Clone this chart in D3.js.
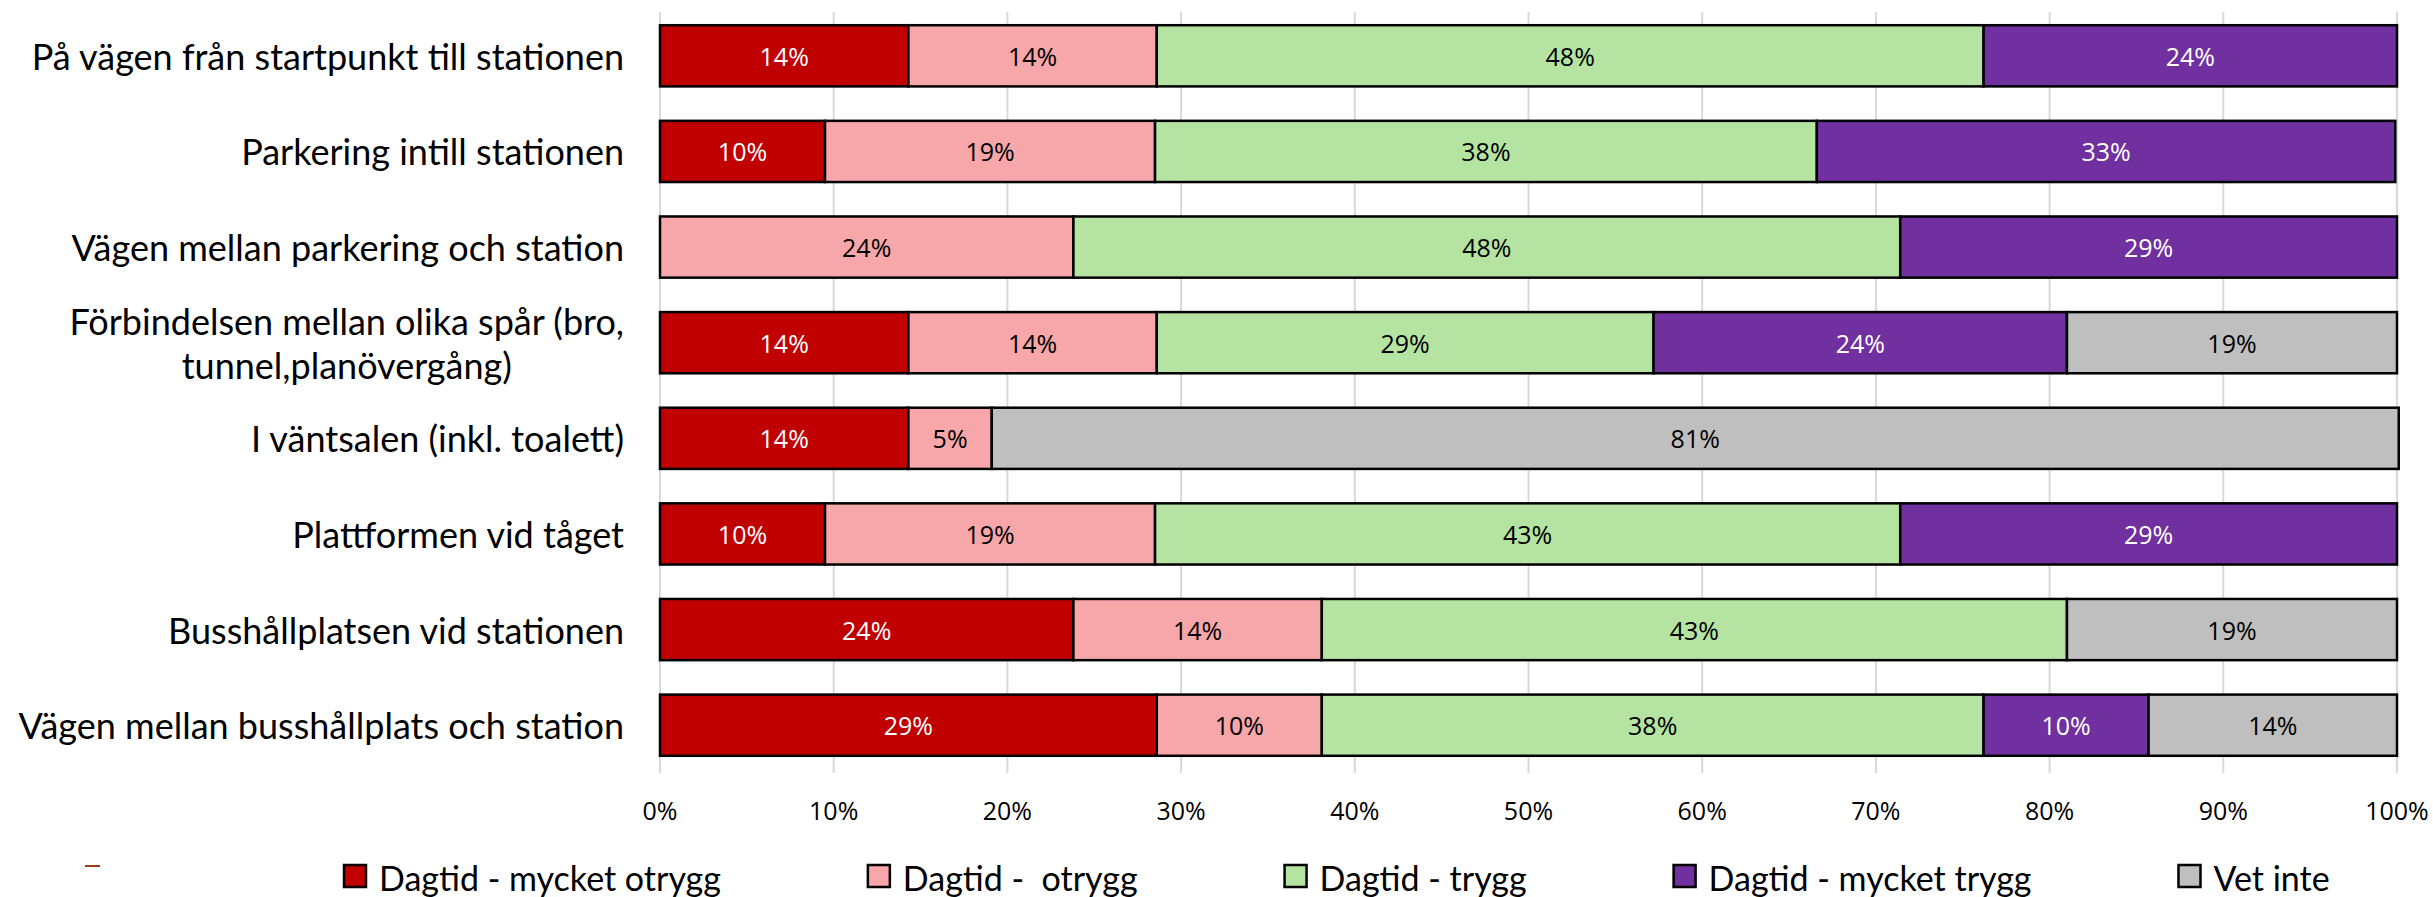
<!DOCTYPE html>
<html>
<head>
<meta charset="utf-8">
<script src="https://cdn.jsdelivr.net/npm/d3@7"></script>
<style>
    body { margin: 0; background: #fff; }
    #chart { width: 2433px; height: 897px; }
    text { white-space: pre; }
</style>
</head>
<body>
<div id="chart"></div>
<script>
var categories = [
    ["På vägen från startpunkt till stationen"],
    ["Parkering intill stationen"],
    ["Vägen mellan parkering och station"],
    ["Förbindelsen mellan olika spår (bro,", "tunnel,planövergång)"],
    ["I väntsalen (inkl. toalett)"],
    ["Plattformen vid tåget"],
    ["Busshållplatsen vid stationen"],
    ["Vägen mellan busshållplats och station"]
];
var seriesNames = ["Dagtid - mycket otrygg", "Dagtid -  otrygg", "Dagtid - trygg", "Dagtid - mycket trygg", "Vet inte"];
var seriesColors = ["#C00000", "#F7A6AA", "#B5E4A2", "#7030A0", "#BFBFBF"];
var labelColors = ["#ffffff", "#000000", "#000000", "#ffffff", "#000000"];

var mycketOtrygg = [14.3, 9.5, 0, 14.3, 14.3, 9.5, 23.8, 28.6];
var otrygg       = [14.3, 19.0, 23.8, 14.3, 4.8, 19.0, 14.3, 9.5];
var trygg        = [47.6, 38.1, 47.6, 28.6, 0, 42.9, 42.9, 38.1];
var mycketTrygg  = [23.8, 33.3, 28.6, 23.8, 0, 28.6, 0, 9.5];
var vetInte      = [0, 0, 0, 19.0, 81.0, 0, 19.0, 14.3];

var xTicks = [0, 10, 20, 30, 40, 50, 60, 70, 80, 90, 100];

var W = 2433, H = 897;
var catFont = "Lato, 'Liberation Sans', sans-serif";
var numFont = "'Open Sans', 'DejaVu Sans', sans-serif";

var svg = d3.select("#chart").append("svg").attr("width", W).attr("height", H);

var rows = categories.map(function(c, i) {
    return { key: i, label: c, values: [mycketOtrygg[i], otrygg[i], trygg[i], mycketTrygg[i], vetInte[i]] };
});

var x = d3.scaleLinear().domain([0, 100]).range([660, 2397]);
var y = d3.scaleBand().domain(rows.map(function(d) { return d.key; }))
    .range([8, 773]).paddingInner(0.36).paddingOuter(0.18);

// gridlines
svg.append("g").selectAll("line").data(xTicks).enter().append("line")
    .attr("x1", function(d) { return x(d); }).attr("x2", function(d) { return x(d); })
    .attr("y1", 12).attr("y2", 773)
    .attr("stroke", "#D9D9D9").attr("stroke-width", 2);

// tick labels
svg.append("g").selectAll("text").data(xTicks).enter().append("text")
    .attr("x", function(d) { return x(d); }).attr("y", 810)
    .attr("text-anchor", "middle").attr("dominant-baseline", "central")
    .style("font-family", numFont).style("font-size", "25px").attr("fill", "#000")
    .text(function(d) { return d + "%"; });

// stacked segments
var stack = d3.stack().keys([0, 1, 2, 3, 4]).value(function(d, k) { return d.values[k]; });
var layers = stack(rows);

var gBars = svg.append("g");
layers.forEach(function(layer, k) {
    var segs = layer.filter(function(s) { return s[1] - s[0] > 0; });
    gBars.selectAll(".seg" + k).data(segs).enter().append("rect")
        .attr("x", function(s) { return x(s[0]); })
        .attr("y", function(s) { return y(s.data.key); })
        .attr("width", function(s) { return x(s[1]) - x(s[0]); })
        .attr("height", y.bandwidth())
        .attr("fill", seriesColors[k])
        .attr("stroke", "#000").attr("stroke-width", 2.5);
    gBars.selectAll(".lab" + k).data(segs).enter().append("text")
        .attr("x", function(s) { return (x(s[0]) + x(s[1])) / 2; })
        .attr("y", function(s) { return y(s.data.key) + y.bandwidth() / 2; })
        .attr("text-anchor", "middle").attr("dominant-baseline", "central")
        .style("font-family", numFont).style("font-size", "25px")
        .attr("fill", labelColors[k])
        .text(function(s) { return Math.round(s[1] - s[0]) + "%"; });
});

// category labels
var labelRight = 624;
var gCat = svg.append("g");
rows.forEach(function(r) {
    var cy = y(r.key) + y.bandwidth() / 2;
    var lh = 44;
    var t = gCat.append("text")
        .style("font-family", catFont).style("font-size", "36px").attr("fill", "#000")
        .attr("text-anchor", r.label.length > 1 ? "middle" : "end");
    r.label.forEach(function(line, j) {
        t.append("tspan").attr("x", 0)
            .attr("y", cy + (j - (r.label.length - 1) / 2) * lh)
            .attr("dominant-baseline", "central").text(line);
    });
    var widest = t.node().getBBox().width;
    t.selectAll("tspan").attr("x", r.label.length > 1 ? labelRight - widest / 2 : labelRight);
});

// legend
var gLeg = svg.append("g");
var lx = 344;
seriesNames.forEach(function(name, k) {
    gLeg.append("rect").attr("x", lx).attr("y", 865).attr("width", 22).attr("height", 22)
        .attr("fill", seriesColors[k]).attr("stroke", "#000").attr("stroke-width", 2.5);
    var t = gLeg.append("text").attr("x", lx + 35).attr("y", 877)
        .attr("dominant-baseline", "central")
        .style("font-family", catFont).style("font-size", "34px").attr("fill", "#000")
        .text(name);
    lx = lx + 35 + t.node().getComputedTextLength() + 147;
});

// small stray mark at lower left
svg.append("line").attr("x1", 85).attr("x2", 100).attr("y1", 866).attr("y2", 866)
    .attr("stroke", "#9C3A1E").attr("stroke-width", 2);
</script>
</body>
</html>
